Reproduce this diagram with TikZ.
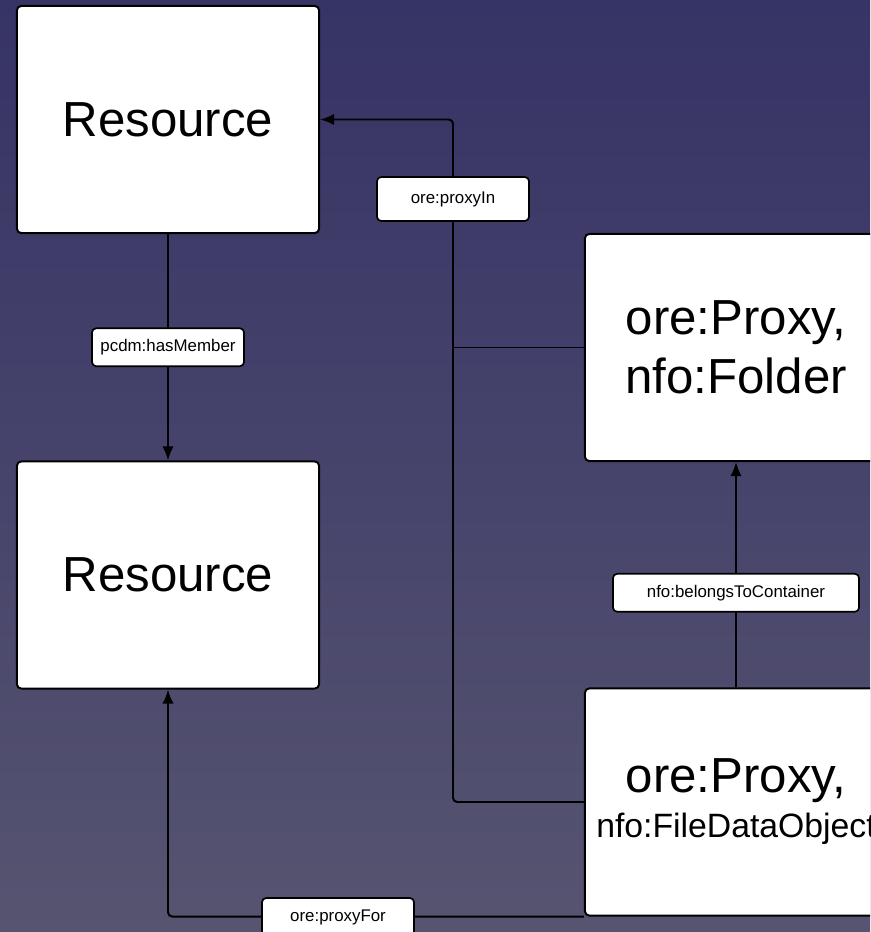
\documentclass[tikz,border=0pt]{standalone}
\usepackage{fontspec}
\setmainfont{Liberation Sans}
\usetikzlibrary{positioning,calc,arrows.meta}
\definecolor{bgtop}{RGB}{54,51,102}
\definecolor{bgbottom}{RGB}{86,84,112}

\begin{document}
\begin{tikzpicture}[x=0.025cm, y=-0.025cm,
    classbox/.style={draw=black, fill=white, line width=1.4pt, rounded corners=3pt,
        minimum width=7.55cm, minimum height=5.675cm, align=center, inner sep=0pt},
    proplabel/.style={draw=black, fill=white, line width=1.2pt, rounded corners=3pt,
        minimum width=3.8cm, minimum height=0.95cm, inner sep=0pt,
        font=\fontsize{12}{14}\selectfont},
    link/.style={line width=1.4pt, rounded corners=3pt},
    arr/.style={link, -{Latex[length=10pt,width=8pt]}}]

    % background
    \shade[top color=bgtop, bottom color=bgbottom] (0,0) rectangle (870,932);
    \useasboundingbox (0,0) rectangle (870,932);
    \clip (0,0) rectangle (870,932);

    % classes
    \node[classbox, font=\fontsize{35}{42}\selectfont] (res1) at (168,119.5) {Resource};
    \node[classbox, font=\fontsize{35}{42}\selectfont] (res2) at (168,575) {Resource};
    \node[classbox, font=\fontsize{35}{42}\selectfont] (folder) at (736,347.5) {ore:Proxy,\\nfo:Folder};
    \node[classbox, font=\fontsize{24}{32}\selectfont] (fdo) at (736,802)
        {{\fontsize{35}{32}\selectfont ore:Proxy,}\\nfo:FileDataObject};

    % pcdm:hasMember
    \draw[arr] (res1) -- node[proplabel] (hasmember) {pcdm:hasMember} (res2);

    % ore:proxyIn
    \coordinate (proxybend) at (453,119.5);
    \draw[arr] (fdo.west) -| (proxybend) -- (res1.east);
    \draw[link] (folder.west) -- (folder.west -| proxybend);
    \node[proplabel, minimum height=1.1cm] (proxyin) at (453,199) {ore:proxyIn};

    % nfo:belongsToContainer
    \draw[arr] (fdo) -- node[proplabel, pos=0.42, minimum width=6.15cm] (belongs) {nfo:belongsToContainer} (folder);

    % ore:proxyFor
    \draw[arr] (fdo.south west) -| (res2.south);
    \node[proplabel] (proxyfor) at (338,917) {ore:proxyFor};
\end{tikzpicture}
\end{document}
